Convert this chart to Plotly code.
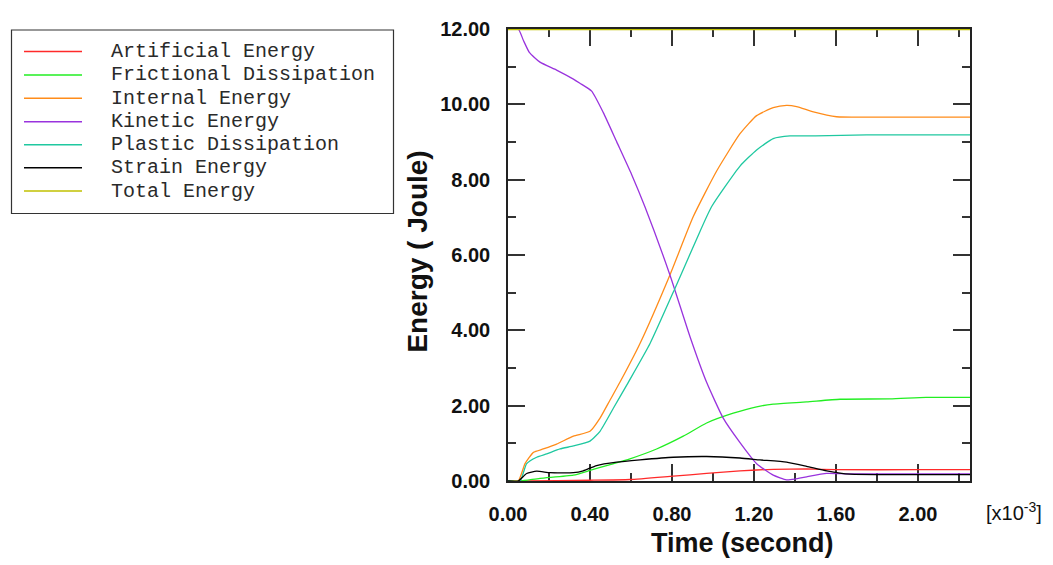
import plotly.graph_objects as go

# ---- data (time in units of 1e-3 s, energy in Joule) ----
series_names = ["Artificial Energy", "Frictional Dissipation", "Internal Energy",
                "Kinetic Energy", "Plastic Dissipation", "Strain Energy", "Total Energy"]
series_colors = ["#ff2a2a", "#22ee22", "#ff8c1a", "#9933dd", "#1fc8a0", "#000000", "#c0c000"]
series_widths = [1.3, 1.3, 1.3, 1.3, 1.3, 1.3, 2.6]

t_artificial = [0, 0.08, 0.4, 0.595, 0.806, 0.969, 1.132, 1.294, 1.457, 1.6, 2.0, 2.254]
e_artificial = [0, 0, 0.02, 0.04, 0.13, 0.20, 0.27, 0.31, 0.32, 0.30, 0.30, 0.30]

t_frictional = [0, 0.06, 0.156, 0.319, 0.4, 0.481, 0.595, 0.725, 0.855, 0.969, 1.099, 1.213,
                1.294, 1.457, 1.62, 1.863, 2.04, 2.254]
e_frictional = [0, 0, 0.07, 0.155, 0.28, 0.41, 0.59, 0.85, 1.19, 1.54, 1.80, 1.97,
                2.04, 2.10, 2.17, 2.18, 2.22, 2.22]

t_internal = [0, 0.05, 0.083, 0.124, 0.172, 0.237, 0.319, 0.4, 0.449, 0.498, 0.546, 0.644,
              0.79, 0.904, 1.018, 1.132, 1.213, 1.294, 1.359, 1.408, 1.49, 1.603, 1.8, 2.0, 2.254]
e_internal = [0, 0, 0.46, 0.76, 0.85, 0.98, 1.19, 1.32, 1.67, 2.15, 2.62, 3.65,
              5.47, 7.02, 8.23, 9.22, 9.70, 9.91, 9.97, 9.94, 9.80, 9.67, 9.66, 9.66, 9.66]

t_kinetic = [0, 0.05, 0.075, 0.104, 0.156, 0.237, 0.319, 0.351, 0.408, 0.465, 0.53, 0.603, 0.668,
             0.79, 0.888, 0.969, 1.05, 1.132, 1.213, 1.294, 1.359, 1.40, 1.457, 1.555, 1.65,
             1.8, 2.0, 2.254]
e_kinetic = [12.0, 12.0, 11.7, 11.38, 11.12, 10.91, 10.67, 10.56, 10.35, 9.78, 9.01, 8.14, 7.28,
             5.47, 3.83, 2.62, 1.67, 1.02, 0.46, 0.155, 0.03, 0.05, 0.11, 0.20, 0.19,
             0.19, 0.19, 0.19]

t_plastic = [0, 0.059, 0.091, 0.14, 0.189, 0.254, 0.319, 0.4, 0.449, 0.514, 0.587, 0.693,
             0.815, 0.920, 0.993, 1.132, 1.213, 1.294, 1.376, 1.5, 1.75, 2.0, 2.254]
e_plastic = [0, 0, 0.46, 0.63, 0.72, 0.85, 0.93, 1.06, 1.32, 1.93, 2.62, 3.65,
             5.12, 6.42, 7.28, 8.36, 8.79, 9.09, 9.16, 9.16, 9.19, 9.19, 9.19]

t_strain = [0, 0.05, 0.091, 0.14, 0.205, 0.319, 0.367, 0.432, 0.53, 0.644, 0.806, 0.969,
            1.132, 1.229, 1.359, 1.457, 1.555, 1.668, 2.0, 2.254]
e_strain = [0, 0, 0.2, 0.26, 0.22, 0.22, 0.27, 0.41, 0.50, 0.56, 0.63, 0.65,
            0.61, 0.56, 0.50, 0.39, 0.27, 0.18, 0.17, 0.17]

t_total = [0, 0.5, 1.0, 1.5, 2.0, 2.254]
e_total = [12.0, 12.0, 12.0, 12.0, 12.0, 12.0]

x_ticks = [0.0, 0.4, 0.8, 1.2, 1.6, 2.0]
y_ticks = [0, 2, 4, 6, 8, 10, 12]

series_t = [t_artificial, t_frictional, t_internal, t_kinetic, t_plastic, t_strain, t_total]
series_e = [e_artificial, e_frictional, e_internal, e_kinetic, e_plastic, e_strain, e_total]

# ---- layout geometry (screen pixels; page body has an 8px margin) ----
OFF = 8
W, H = 1053 - OFF, 565 - OFF
L, R, T, B = 508, 970, 18, 481  # plot area on screen


def px_x(px):
    return (px - L) / (R - L)


def px_y(py):
    return (B - py) / (B - T)


fig = go.Figure()
for name, col, lw, tt, ee in zip(series_names, series_colors, series_widths, series_t, series_e):
    fig.add_trace(go.Scatter(x=tt, y=ee, mode="lines", name=name,
                             line=dict(color=col, width=lw, shape="spline", smoothing=0.5),
                             showlegend=False, hoverinfo="skip"))

axis_common = dict(showline=True, linecolor="#222222", linewidth=1.5, mirror="ticks",
                   ticks="inside", ticklen=17, tickwidth=2, tickcolor="#333333",
                   showgrid=False, zeroline=False, layer="below traces",
                   tickfont=dict(family="Liberation Sans", size=20, color="#111111", weight="bold"))

fig.update_xaxes(range=[0, 2.254], tickvals=x_ticks, tickformat=".2f",
                 minor=dict(dtick=0.2, tick0=0, ticks="inside", ticklen=8, tickwidth=2,
                            tickcolor="#333333", showgrid=False),
                 ticklabelstandoff=14, **axis_common)
fig.update_yaxes(range=[0, 12], tickvals=y_ticks, tickformat=".2f",
                 minor=dict(dtick=1, tick0=0, ticks="inside", ticklen=8, tickwidth=2,
                            tickcolor="#333333", showgrid=False),
                 ticklabelstandoff=12, **axis_common)

annotations = []
shapes = []
# axis titles
annotations.append(dict(text="Time (second)", x=px_x(742), y=px_y(545), xref="paper", yref="paper",
                        showarrow=False, xanchor="center", yanchor="middle",
                        font=dict(family="Liberation Sans", size=27, color="#111111", weight="bold")))
annotations.append(dict(text="Energy ( Joule)", x=px_x(418), y=px_y(246), xref="paper", yref="paper",
                        showarrow=False, xanchor="center", yanchor="middle", textangle=-90,
                        font=dict(family="Liberation Sans", size=28, color="#111111", weight="bold")))
annotations.append(dict(text="[x10<sup>-3</sup>]", x=px_x(984), y=px_y(512), xref="paper", yref="paper",
                        showarrow=False, xanchor="left", yanchor="middle",
                        font=dict(family="Liberation Sans", size=20, color="#111111")))

# legend box (custom)
shapes.append(dict(type="rect", xref="paper", yref="paper",
                   x0=px_x(11.5), x1=px_x(393.5), y0=px_y(207), y1=px_y(19),
                   line=dict(color="#333333", width=1.2), fillcolor="white", layer="above"))
row_y = [40, 64, 88, 112, 135.5, 159, 183]
for name, col, ry in zip(series_names, series_colors, row_y):
    shapes.append(dict(type="line", xref="paper", yref="paper",
                       x0=px_x(24), x1=px_x(82), y0=px_y(ry + 1), y1=px_y(ry + 1),
                       line=dict(color=col, width=1.5), layer="above"))
    annotations.append(dict(text=name, x=px_x(109), y=px_y(ry + 1), xref="paper", yref="paper",
                            showarrow=False, xanchor="left", yanchor="middle",
                            font=dict(family="Liberation Mono", size=20, color="#2a2a2a")))

fig.update_layout(width=W, height=H,
                  margin=dict(l=L - OFF, r=(1053 - R), t=T - OFF, b=(565 - B)),
                  paper_bgcolor="white", plot_bgcolor="white",
                  shapes=shapes, annotations=annotations, showlegend=False)

fig.write_html("out.html")
